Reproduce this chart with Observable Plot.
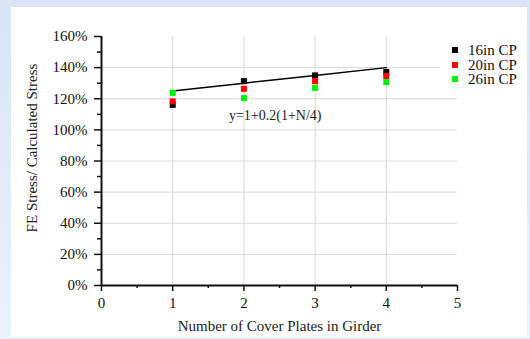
<!DOCTYPE html>
<html>
<head>
<meta charset="utf-8">
<script src="https://cdn.jsdelivr.net/npm/d3@7"></script>
<script src="https://cdn.jsdelivr.net/npm/@observablehq/plot@0.6"></script>
<style>
  html, body { margin: 0; padding: 0; }
  body { width: 530px; height: 339px; position: relative; overflow: hidden;
         background: linear-gradient(to bottom, #d9e5f6 0%, #e9f1fb 100%); font-family: "Liberation Serif", serif; }
  #panel { position: absolute; left: 11px; top: 7px; width: 516px; height: 330px; background: #fff; }
  #chart { position: absolute; left: 0; top: 0; }
  #legend { position: absolute; left: 440px; top: 40px; width: 82px; height: 48px; background: #fff; }
  .item { position: absolute; left: 0; height: 15px; line-height: 15px; font-size: 15px; color: #111; }
  .sw { position: absolute; left: 12px; top: 4px; width: 6px; height: 6px; }
  .lab { position: absolute; left: 28px; top: 0; white-space: nowrap; }
</style>
</head>
<body>
<div id="panel"></div>
<div id="chart"></div>
<div id="legend"></div>
<script>
const coverPlates = [1, 2, 3, 4];
const series = ["16in CP", "20in CP", "26in CP"];
const colors = ["#000000", "#ff0000", "#00ee00"];
const cp16 = [1.161, 1.313, 1.350, 1.372];
const cp20 = [1.183, 1.264, 1.313, 1.346];
const cp26 = [1.238, 1.204, 1.270, 1.307];
const formulaLine = [1.25, 1.30, 1.35, 1.40];
const formulaText = "y=1+0.2(1+N/4)";
const xTicks = [0, 1, 2, 3, 4, 5];
const xMinor = [0.5, 1.5, 2.5, 3.5, 4.5];
const yTicks = [0, 0.2, 0.4, 0.6, 0.8, 1.0, 1.2, 1.4, 1.6];
const yMinor = [0.1, 0.3, 0.5, 0.7, 0.9, 1.1, 1.3, 1.5];
const yGrid = [0.2, 0.4, 0.6, 0.8, 1.0, 1.2, 1.4];
const xGrid = [1, 2, 3, 4];
const xLabel = "Number of Cover Plates in Girder";
const yLabel = "FE Stress/ Calculated Stress";

const allVals = [cp16, cp20, cp26];
const points = [];
series.forEach((s, i) => coverPlates.forEach((n, j) => points.push({series: s, n, v: allVals[i][j]})));
const lineData = coverPlates.map((n, j) => ({n, v: formulaLine[j]}));

const font = "Liberation Serif";
const chart = Plot.plot({
  width: 530,
  height: 339,
  marginLeft: 101,
  marginRight: 73,
  marginTop: 36,
  marginBottom: 54,
  style: {background: "transparent", fontFamily: font, fontSize: "15px", color: "#111"},
  x: {domain: [0, 5]},
  y: {domain: [0, 1.6]},
  color: {domain: series, range: colors},
  marks: [
    Plot.gridY(yGrid, {stroke: "#d8d8d8", strokeOpacity: 1, strokeWidth: 1}),
    Plot.gridX(xGrid, {stroke: "#d8d8d8", strokeOpacity: 1, strokeWidth: 1}),
    Plot.axisX(xMinor, {tickSize: 3, tickFormat: () => "", label: null, strokeWidth: 1.5}),
    Plot.axisX(xTicks, {tickSize: 6, tickPadding: 6, tickFormat: d => String(d), label: null, strokeWidth: 1.5, fontSize: 15}),
    Plot.axisY(yMinor, {tickSize: 4, tickFormat: () => "", label: null, strokeWidth: 1.5}),
    Plot.axisY(yTicks, {tickSize: 7, tickPadding: 7, tickFormat: d => Math.round(d * 100) + "%", label: null, strokeWidth: 1.5, fontSize: 15}),
    Plot.ruleY([0], {stroke: "#111", strokeWidth: 2}),
    Plot.ruleX([0], {y1: 0, y2: 1.6, stroke: "#111", strokeWidth: 2}),
    Plot.line(lineData, {x: "n", y: "v", stroke: "#000", strokeWidth: 1.5}),
    Plot.dot(points, {x: "n", y: "v", fill: "series", symbol: "square", r: 3.4, stroke: null}),
    Plot.text([formulaText], {x: 2.44, y: 1.093, text: d => d, fontSize: 14, fill: "#222"}),
    Plot.text([xLabel], {frameAnchor: "bottom", dy: 45, text: d => d, fontSize: 15, fill: "#222"}),
    Plot.text([yLabel], {frameAnchor: "left", textAnchor: "middle", dx: -69, dy: -13, rotate: -90, text: d => d, fontSize: 15, fill: "#222"})
  ]
});
document.getElementById("chart").appendChild(chart);

const legend = document.getElementById("legend");
series.forEach((s, i) => {
  const it = document.createElement("div");
  it.className = "item";
  it.style.top = (3 + i * 14.5) + "px";
  it.innerHTML = `<span class="sw" style="background:${colors[i]}"></span><span class="lab">${s}</span>`;
  legend.appendChild(it);
});
</script>
</body>
</html>
